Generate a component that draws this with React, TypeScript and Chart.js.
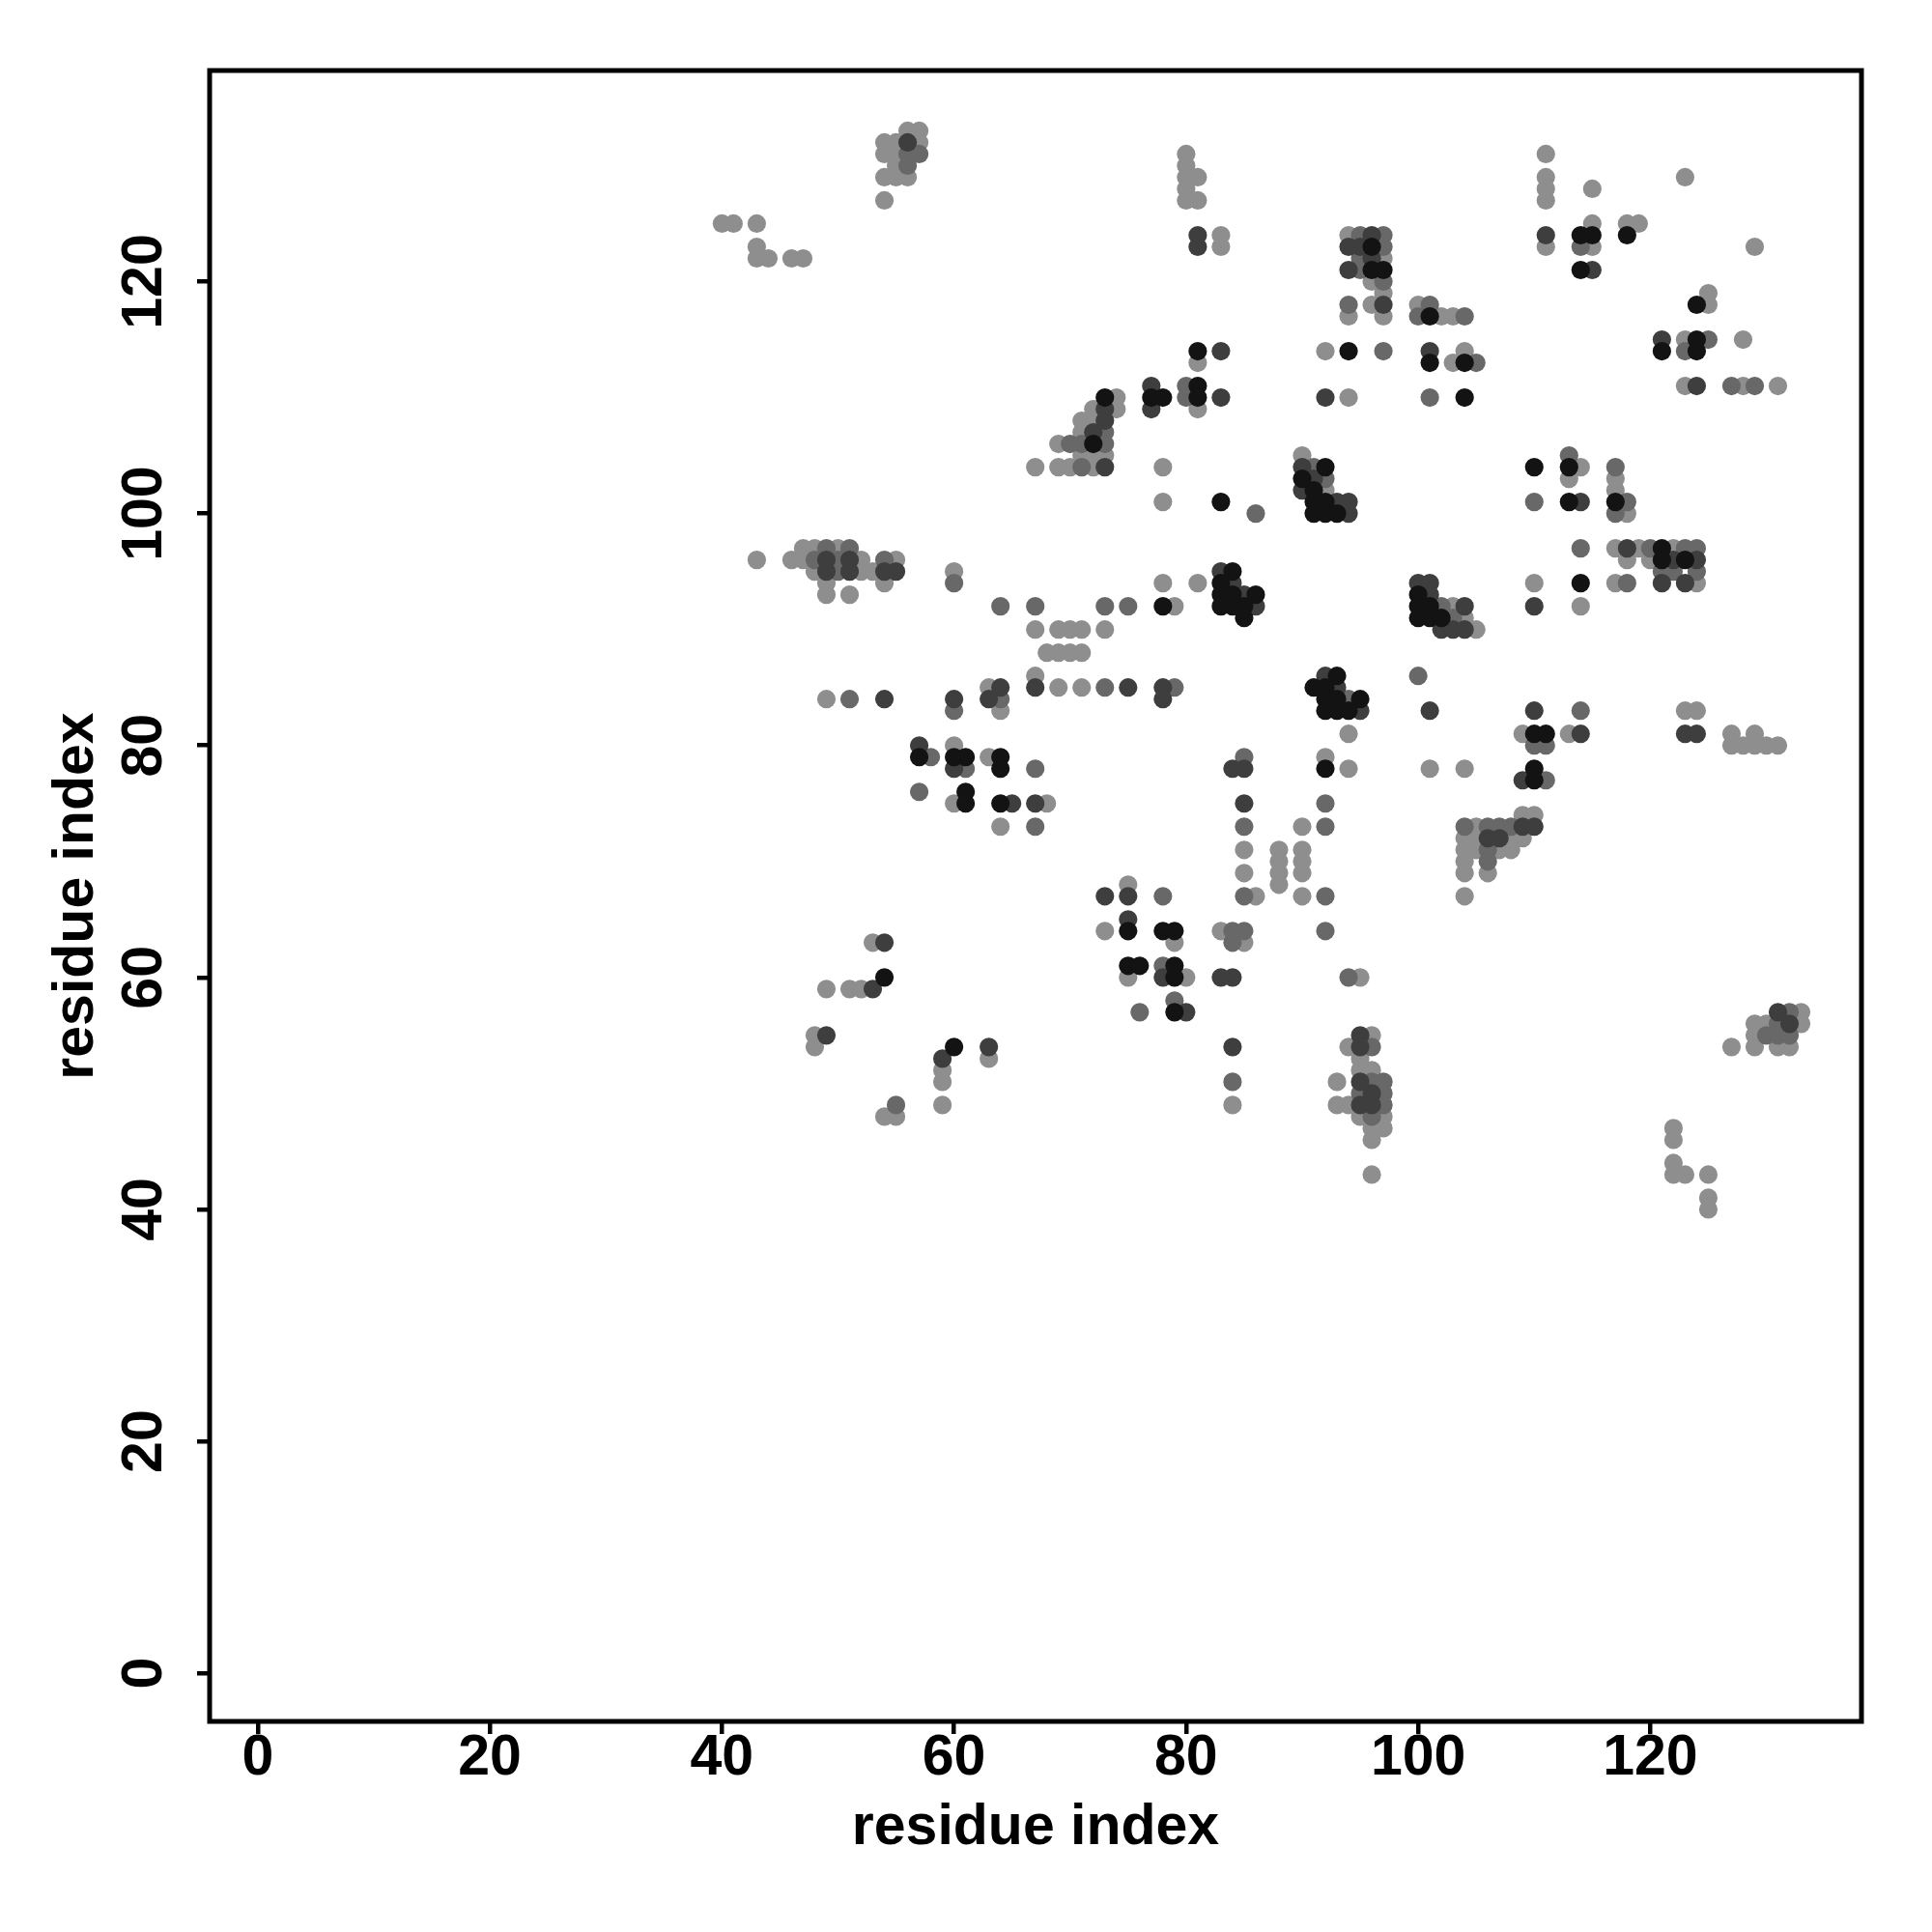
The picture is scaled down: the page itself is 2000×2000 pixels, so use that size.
import { useEffect, useRef } from "react";
import { Chart, registerables } from "chart.js";

Chart.register(...registerables);

const tickValues = [0, 20, 40, 60, 80, 100, 120];
const axisTitle = "residue index";

type P = [number, number];

const lightPoints: P[] = [
  [40,125],[41,125],[43,125],[43,123],[43,122],[44,122],[46,122],[47,122],
  [54,127],[54,129],[54,131],[54,132],[55,129],[55,130],[55,131],[55,132],[56,129],[56,133],[57,133],[57,132],
  [80,131],[80,130],[80,129],[80,128],[80,127],[81,129],[81,127],[83,124],[83,123],
  [74,110],[74,109],[72,109],[72,108],[71,108],[71,107],[71,105],[72,105],[72,104],[73,105],[69,106],[67,104],[69,104],[70,104],[78,104],[81,109],[81,113],
  [94,124],[97,122],[96,120],[97,119],[96,118],[94,117],[97,117],[100,118],[102,117],[103,117],
  [92,114],[94,110],[103,113],[104,114],
  [90,105],[92,102],
  [111,131],[111,129],[111,128],[111,127],[111,123],[115,128],[115,125],[115,123],[118,125],[119,125],[123,129],[129,123],
  [125,119],[125,118],[123,115],[128,115],[123,111],[128,111],[131,111],
  [114,104],[113,103],[117,103],[117,102],[118,100],
  [43,96],[46,96],[47,97],[47,96],[48,97],[48,95],[49,94],[49,93],[51,93],[52,96],[52,95],[53,95],[54,94],[55,96],[60,95],[50,97],
  [49,84],[60,80],[60,75],
  [78,94],[81,94],[79,92],[67,90],[69,90],[70,90],[71,90],[73,90],[68,88],[69,88],[70,88],[71,88],[67,86],[69,85],[71,85],[63,85],[64,83],[63,79],[68,75],[64,73],[85,71],[85,69],[86,67],[78,101],
  [103,92],[104,91],[105,90],[110,94],
  [94,81],[92,79],[94,78],[101,78],[104,78],[109,81],
  [117,97],[119,97],[122,97],[118,96],[120,96],[124,94],[117,94],[114,92],[113,81],[123,83],[124,83],[127,81],[127,80],[128,80],[129,81],[129,80],[130,80],[131,80],
  [75,68],[73,64],[79,63],[75,60],[80,60],[83,64],[85,63],[84,49],[63,53],
  [90,73],[88,71],[90,71],[88,70],[88,69],[88,68],[90,70],[90,69],[90,67],[104,70],[104,69],[104,67],[106,69],[105,73],[104,72],[105,72],[108,72],[109,72],[104,71],[105,71],[107,71],[108,71],[109,74],[110,74],
  [95,60],[96,55],[94,54],[95,53],[95,52],[96,52],[93,51],[93,49],[94,49],[95,48],[97,48],[96,47],[97,47],[96,46],[96,43],
  [53,63],[49,59],[51,59],[52,59],[48,55],[48,54],[59,52],[59,51],[59,49],[54,48],[55,48],
  [127,54],[129,54],[131,54],[132,54],[129,56],[130,56],[133,56],[129,55],[133,57],
  [122,47],[122,46],[122,44],[122,43],[123,43],[125,43],[125,41],[125,40],
];

const midPoints: P[] = [
  [56,130],[56,131],[57,131],
  [71,106],[71,104],[70,106],[73,107],[73,106],[80,111],[80,110],
  [95,124],[97,124],[97,123],[95,122],[95,121],[97,120],[94,118],[101,118],[100,117],[104,117],
  [97,114],[105,113],[101,110],
  [91,104],[92,103],
  [114,123],
  [123,114],[125,115],[127,111],[129,111],
  [113,105],[117,104],[117,100],[118,101],[110,101],
  [48,96],[49,97],[50,96],[50,95],[51,97],[54,96],[60,94],
  [51,84],[60,83],[58,79],[61,78],[57,76],
  [86,100],[64,92],[67,92],[73,92],[75,92],[73,85],[79,85],[64,84],[67,78],[67,73],[85,79],[85,73],[85,67],
  [102,92],[103,91],[100,86],
  [94,84],[110,80],[111,80],[111,77],
  [114,97],[118,94],[120,97],[123,97],[124,97],[121,95],[122,95],[124,95],[114,83],
  [78,67],[78,61],[76,57],[79,58],[84,64],[85,64],[84,63],[84,51],
  [92,75],[92,73],[92,67],[92,64],[104,73],[106,73],[107,73],[108,73],[106,71],[106,70],
  [94,60],[96,54],[96,51],[97,51],[95,50],[97,50],[97,49],[96,48],
  [55,49],
  [130,55],[131,55],[132,55],[131,56],[132,57],
];

const darkPoints: P[] = [
  [56,132],
  [81,124],[81,123],
  [72,107],[73,108],[73,109],[73,104],[77,111],[77,109],[83,110],[83,114],
  [94,123],[95,123],[96,124],[96,122],[94,121],[97,118],
  [101,114],[92,110],
  [90,104],[90,102],[91,103],[93,101],[94,101],[94,100],
  [111,124],[115,121],
  [121,115],[124,111],
  [114,101],
  [49,96],[49,95],[51,96],[51,95],[54,95],[55,95],
  [54,84],[60,84],[60,78],[57,80],
  [83,95],[84,94],[85,93],[86,92],[67,85],[75,85],[78,85],[78,84],[64,85],[63,84],[65,75],[67,75],[84,78],[85,78],[85,75],
  [100,94],[101,94],[101,93],[102,90],[103,90],[104,90],[104,92],[110,92],[101,83],
  [92,86],[93,85],[95,83],[110,83],[109,77],
  [118,97],[122,96],[124,96],[123,94],[121,94],[114,81],[123,81],[124,81],
  [73,67],[75,67],[75,65],[78,60],[80,57],[83,60],[84,60],[84,54],[63,54],
  [106,72],[107,72],[109,73],[110,73],
  [95,55],[95,54],[95,51],[96,50],[95,49],[96,49],
  [54,63],[53,59],[59,53],[49,55],
  [132,56],[131,57],
];

const blackPoints: P[] = [
  [73,110],[72,106],[77,110],[78,110],[81,111],[81,110],[81,114],
  [96,123],[96,121],[97,121],[101,117],
  [94,114],[101,113],[104,113],[104,110],
  [92,104],[90,103],[91,102],[91,101],[92,101],[91,100],[92,100],[93,100],
  [114,124],[115,124],[114,121],[118,124],
  [124,118],[121,114],[124,115],[124,114],
  [110,104],[113,104],[113,101],[117,101],
  [57,79],[60,79],[61,79],[61,76],[61,75],
  [83,101],[84,95],[83,94],[83,93],[84,93],[86,93],[83,92],[84,92],[85,92],[85,91],[78,92],[64,79],[64,78],[64,75],
  [100,93],[100,92],[101,92],[100,91],[101,91],[102,91],
  [91,85],[93,86],[92,85],[92,84],[93,84],[95,84],[92,83],[93,83],[94,83],[92,78],[110,81],[111,81],[110,78],[110,77],
  [114,94],[121,97],[121,96],[123,96],
  [75,64],[78,64],[79,64],[75,61],[76,61],[79,61],[79,60],[79,57],
  [54,60],[60,54],
];

const FONT = "'Liberation Sans', Arial, Helvetica, sans-serif";

export default function App() {
  const ref = useRef<HTMLCanvasElement>(null);

  useEffect(() => {
    document.body.style.margin = "0";
    const canvas = ref.current;
    if (!canvas) return;
    const toXY = (a: P[]) => a.map(([x, y]) => ({ x, y }));

    const boxPlugin = {
      id: "boxPlugin",
      afterDraw(chart: any) {
        const { ctx, chartArea } = chart;
        ctx.save();
        ctx.strokeStyle = "#000";
        ctx.lineWidth = 5;
        ctx.strokeRect(chartArea.left, chartArea.top, chartArea.right - chartArea.left, chartArea.bottom - chartArea.top);
        ctx.restore();
      },
    };

    const tickFont = { family: FONT, size: 59, weight: "bold" as const, lineHeight: 1 };
    const titleFont = { family: FONT, size: 59, weight: "bold" as const, lineHeight: 1.2 };

    const chart = new Chart(canvas, {
      type: "scatter",
      data: {
        datasets: [
          { data: toXY(blackPoints), backgroundColor: "#131313" },
          { data: toXY(darkPoints), backgroundColor: "#3e3e3e" },
          { data: toXY(midPoints), backgroundColor: "#686868" },
          { data: toXY(lightPoints), backgroundColor: "#8e8e8e" },
        ],
      },
      options: {
        responsive: false,
        animation: false,
        devicePixelRatio: 1,
        events: [],
        layout: { padding: { top: 73, right: 73, left: 0, bottom: 0 } },
        plugins: { legend: { display: false }, tooltip: { enabled: false } },
        elements: { point: { radius: 9.6, hoverRadius: 9.6, borderWidth: 0 } },
        scales: {
          x: {
            type: "linear",
            min: -4.15,
            max: 138.2,
            afterBuildTicks: (s: any) => {
              s.ticks = tickValues.map((v) => ({ value: v }));
            },
            afterFit: (s: any) => {
              s.height = 218;
            },
            border: { display: false },
            grid: { drawOnChartArea: false, drawTicks: true, tickLength: 13, color: "#000", lineWidth: 4.5 },
            ticks: { font: tickFont, color: "#000", padding: -4, maxRotation: 0, minRotation: 0, autoSkip: false },
            title: { display: true, text: axisTitle, font: titleFont, color: "#000", padding: { top: 0, bottom: 72 } },
          },
          y: {
            type: "linear",
            min: -4.15,
            max: 138.2,
            afterBuildTicks: (s: any) => {
              s.ticks = tickValues.map((v) => ({ value: v }));
            },
            afterFit: (s: any) => {
              s.width = 217;
            },
            border: { display: false },
            grid: { drawOnChartArea: false, drawTicks: true, tickLength: 13, color: "#000", lineWidth: 4.5 },
            ticks: { font: tickFont, color: "#000", padding: 4, minRotation: 90, maxRotation: 90, crossAlign: "center", autoSkip: false },
            title: { display: true, text: axisTitle, font: titleFont, color: "#000", padding: { top: 44, bottom: 0 } },
          },
        },
      },
      plugins: [boxPlugin],
    } as any);

    return () => chart.destroy();
  }, []);

  return (
    <div style={{ width: 2000, height: 2000 }}>
      <canvas ref={ref} width={2000} height={2000} style={{ display: "block", width: 2000, height: 2000 }} />
    </div>
  );
}
